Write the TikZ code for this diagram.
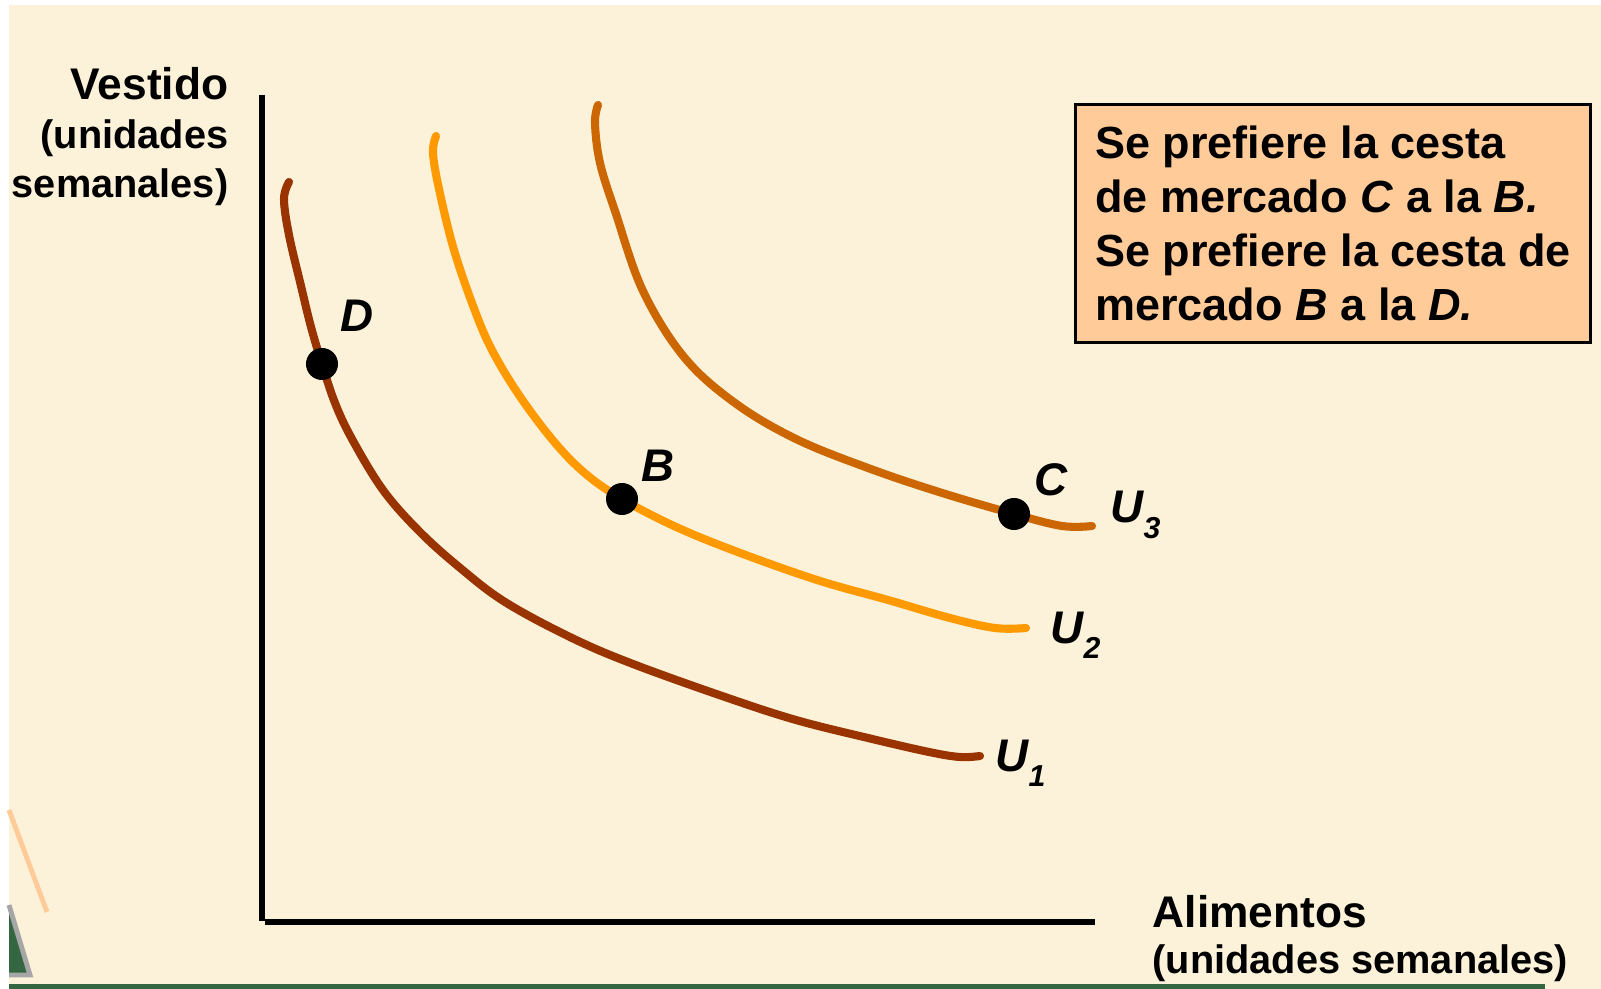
\documentclass[tikz,border=0pt]{standalone}
\usepackage{fontspec}
\setmainfont{Liberation Sans}
\usetikzlibrary{positioning}
\definecolor{paper}{RGB}{252,242,218}
\definecolor{uone}{HTML}{993300}
\definecolor{utwo}{HTML}{FF9900}
\definecolor{uthree}{HTML}{CC6600}
\definecolor{notefill}{HTML}{FFCC99}
\definecolor{slidegreen}{RGB}{52,102,66}
\newcommand{\ulab}[1]{U\raisebox{-0.33em}{\fontsize{8.6}{9}\selectfont #1}}

\begin{document}
\begin{tikzpicture}[
  x=0.01cm, y=-0.01cm,
  curve/.style={line width=2.3pt, line cap=round, line join=round},
  basket/.style={circle, fill=black, inner sep=0pt, minimum size=0.32cm},
  ptlbl/.style={anchor=base west, inner sep=0pt,
    font=\fontsize{13}{15}\selectfont\bfseries\itshape},
  axis/.style={line width=1.5pt},
  bigtxt/.style={inner sep=0pt, font=\fontsize{12.6}{15}\selectfont\bfseries},
  smalltxt/.style={inner sep=0pt, font=\fontsize{11.3}{14}\selectfont\bfseries}
]
  \useasboundingbox (0,0) rectangle (1601,989);
  % slide background
  \fill[white] (0,0) rectangle (1601,989);
  \fill[paper] (9,5) rectangle (1601,989);
  \fill[slidegreen] (9,984) rectangle (1545,989);
  \draw[notefill, line width=1.4pt] (9,810) -- (47,912);
  \filldraw[fill=slidegreen, draw=gray!70, line width=1.4pt] (9,905) -- (30,975) -- (9,975);

  % axes
  \coordinate (ytop) at (262,95);
  \coordinate (ybot) at (262,921);
  \coordinate (xleft) at (265,922);
  \coordinate (xend) at (1095,922);
  \draw[axis] (ytop) -- (ybot);
  \draw[axis] (xleft) -- (xend);

  \node[bigtxt, anchor=base east] (ylab) at (229,100) {Vestido};
  \node[smalltxt, anchor=base east] (yunit) at (229,149) {(unidades};
  \node[smalltxt, anchor=base east] (yunit2) at (229,198) {semanales)};
  \node[bigtxt, anchor=base west] (xlab) at (1152,927) {Alimentos};
  \node[smalltxt, anchor=base west] (xunit) at (1152,973) {(unidades semanales)};

  % indifference curves
  \draw[curve, uone] plot[smooth, tension=0.6] coordinates {
    (289,182) (284,199) (289,235) (301,286) (311,327) (322,364) (335,403)
    (352,439) (383,490) (419,531) (459,567) (505,602) (572,638) (633,664)
    (725,697) (796,720) (868,738) (929,752) (960,757) (980,756)};
  \draw[curve, utwo] plot[smooth, tension=0.6] coordinates {
    (436,136) (433,153) (439,189) (454,250) (475,311) (493,352) (521,398)
    (556,444) (587,475) (622,499) (674,526) (735,551) (817,580) (888,600)
    (950,618) (995,628) (1026,628)};
  \draw[curve, uthree] plot[smooth, tension=0.6] coordinates {
    (598,105) (595,123) (600,163) (616,214) (643,291) (684,357) (735,403)
    (796,439) (868,468) (939,492) (1014,514) (1062,526) (1092,526)};

  % market baskets
  \node[basket] (D) at (322,364) {};
  \node[basket] (B) at (622,499) {};
  \node[basket] (C) at (1014,514) {};
  \node[ptlbl] (Dl) at (340,332) {D};
  \node[ptlbl] (Bl) at (641,482) {B};
  \node[ptlbl] (Cl) at (1034,496) {C};
  \node[ptlbl] (U3) at (1110,523) {\ulab{3}};
  \node[ptlbl] (U2) at (1050,643) {\ulab{2}};
  \node[ptlbl] (U1) at (995,771) {\ulab{1}};

  % note
  \node[draw=black, line width=0.8pt, fill=notefill, anchor=north west,
    minimum width=5.15cm, minimum height=2.38cm, inner xsep=0.18cm, inner ysep=0.2cm,
    align=left, font=\fontsize{12.8}{15.4}\selectfont\bfseries] (note) at (1074,103)
    {Se prefiere la cesta\\de mercado \textit{C} a la \textit{B.}\\
     Se prefiere la cesta de\\mercado \textit{B} a la \textit{D.}};
\end{tikzpicture}
\end{document}
